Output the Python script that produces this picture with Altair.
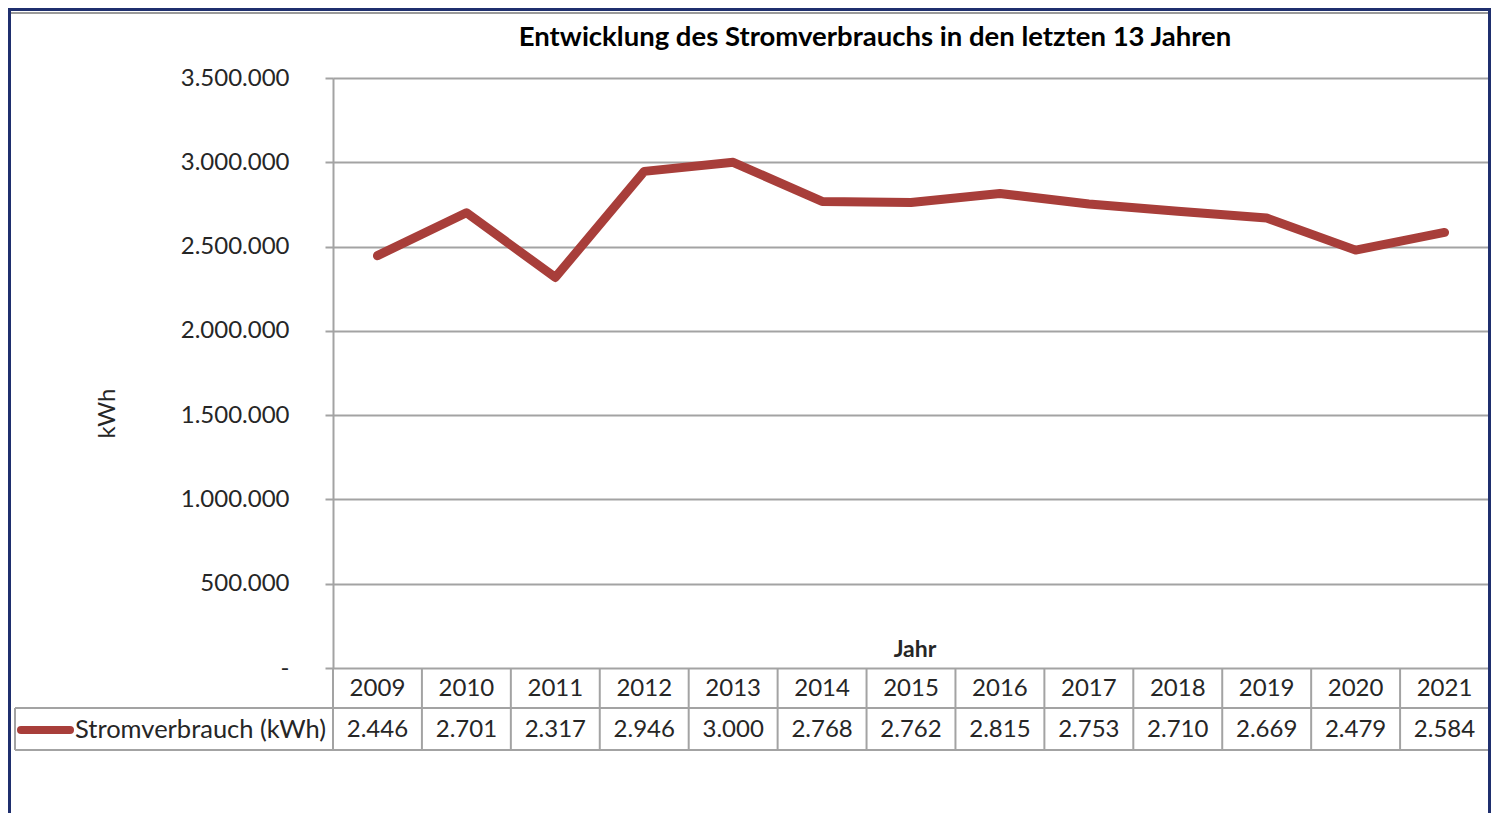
import altair as alt
import pandas as pd

# ---- data ----
years = [2009, 2010, 2011, 2012, 2013, 2014, 2015, 2016, 2017, 2018, 2019, 2020, 2021]
verbrauch_kwh = [2446000, 2701000, 2317000, 2946000, 3000000, 2768000, 2762000,
                 2815000, 2753000, 2710000, 2669000, 2479000, 2584000]
y_ticks = [0, 500000, 1000000, 1500000, 2000000, 2500000, 3000000, 3500000]
title_text = "Entwicklung des Stromverbrauchs in den letzten 13 Jahren"
y_title = "kWh"
x_title = "Jahr"
series_name = "Stromverbrauch (kWh)"

df = pd.DataFrame({"year": years, "kwh": verbrauch_kwh})
edges = pd.DataFrame({"year": [years[0] - 0.5] + [y + 0.5 for y in years]})
one = pd.DataFrame({"name": [series_name], "title": [title_text], "xt": [x_title]})

W, H = 1156, 590
GRAY = "#a3a3a3"
FONT = "Lato"
TXT = "#262626"
RED = "#a83e3a"
NAVY = "#1f2f6e"

xs = alt.Scale(domain=[years[0] - 0.5, years[-1] + 0.5], nice=False, zero=False)
ys = alt.Scale(domain=[y_ticks[0], y_ticks[-1]], nice=False)

label_expr = ("datum.value == 0 ? '-\u00a0\u00a0' : "
              "replace(format(datum.value, ','), regexp(',', 'g'), '.')")

line = alt.Chart(df).mark_line(
    color=RED, strokeWidth=9, strokeCap="round", strokeJoin="round"
).encode(
    x=alt.X("year:Q", scale=xs, axis=None),
    y=alt.Y("kwh:Q", scale=ys, axis=alt.Axis(
        values=y_ticks, labelExpr=label_expr,
        tickSize=8, tickColor=GRAY, tickWidth=2,
        grid=True, gridColor=GRAY, gridWidth=2,
        domainColor=GRAY, domainWidth=2,
        labelPadding=36, labelFontSize=24, labelFont=FONT, labelColor=TXT,
        title=y_title, titleFont=FONT, titleFontSize=24, titleFontWeight="normal",
        titleColor=TXT, titleX=-219, titleY=335, titleAngle=270,
        titleAlign="center", titleBaseline="alphabetic")),
)

# table: year header row
year_text = alt.Chart(df).mark_text(
    font=FONT, fontSize=24, color=TXT, baseline="middle", align="center"
).encode(
    x=alt.X("year:Q", scale=xs, axis=None),
    y=alt.value(611),
    text=alt.Text("year:N"),
)

# table: value row
value_text = alt.Chart(df).transform_calculate(
    lbl="replace(format(datum.kwh / 1000, ','), regexp(',', 'g'), '.')"
).mark_text(
    font=FONT, fontSize=24, color=TXT, baseline="middle", align="center"
).encode(
    x=alt.X("year:Q", scale=xs, axis=None),
    y=alt.value(652),
    text=alt.Text("lbl:N"),
)

# table vertical separators
seps = alt.Chart(edges).mark_rule(color=GRAY, strokeWidth=2).encode(
    x=alt.X("year:Q", scale=xs, axis=None),
    y=alt.value(590),
    y2=alt.value(672),
)

hline1 = alt.Chart(one).mark_rule(color=GRAY, strokeWidth=2).encode(
    x=alt.value(-318), x2=alt.value(W), y=alt.value(630))
hline2 = alt.Chart(one).mark_rule(color=GRAY, strokeWidth=2).encode(
    x=alt.value(-318), x2=alt.value(W), y=alt.value(672))
vleft = alt.Chart(one).mark_rule(color=GRAY, strokeWidth=2).encode(
    x=alt.value(-318), y=alt.value(630), y2=alt.value(672))

swatch = alt.Chart(one).mark_rule(color=RED, strokeWidth=8, strokeCap="round").encode(
    x=alt.value(-312), x2=alt.value(-263), y=alt.value(652))
name_text = alt.Chart(one).mark_text(
    font=FONT, fontSize=25.5, color=TXT, baseline="middle", align="left"
).encode(x=alt.value(-258), y=alt.value(652), text="name:N")

# chart title and x-axis title
title_mark = alt.Chart(one).mark_text(
    font=FONT, fontSize=27.5, fontWeight="bold", color="black",
    baseline="alphabetic", align="center"
).encode(x=alt.value(542), y=alt.value(-32), text="title:N")
xtitle_mark = alt.Chart(one).mark_text(
    font=FONT, fontSize=23, fontWeight="bold", color=TXT,
    baseline="alphabetic", align="center"
).encode(x=alt.value(582), y=alt.value(579), text="xt:N")

# outer frame
frame = alt.Chart(one).mark_rect(fill=None, stroke=NAVY, strokeWidth=3).encode(
    x=alt.value(-323.5), x2=alt.value(W + 0.5), y=alt.value(-68.5), y2=alt.value(770))
inner_top = alt.Chart(one).mark_rule(color="#9a9a9a", strokeWidth=2).encode(
    x=alt.value(-322), x2=alt.value(W - 1), y=alt.value(-65))

chart = alt.layer(
    line, seps, hline1, hline2, vleft, year_text, value_text, swatch, name_text,
    title_mark, xtitle_mark, frame, inner_top
).properties(
    width=W, height=H,
    padding={"left": 325, "top": 70, "right": 2, "bottom": 145},
    autosize=alt.AutoSizeParams(type="none"),
).configure_view(stroke=None).configure(background="white")

chart.save("out.html", embed_options={"renderer": "svg", "actions": False})
